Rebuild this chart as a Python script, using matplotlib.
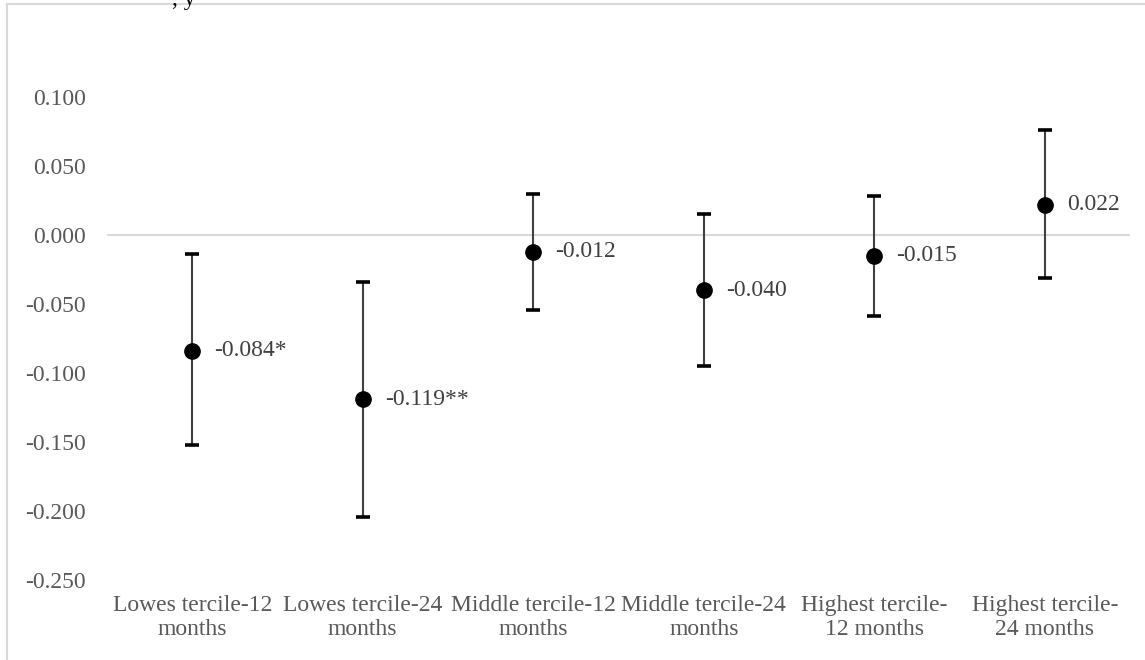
import numpy as np
import matplotlib
matplotlib.use("Agg")
import matplotlib.pyplot as plt
from matplotlib.patches import Rectangle

# ── data ─────────────────────────────────────────────
categories = ["Lowes tercile-12\nmonths", "Lowes tercile-24\nmonths",
              "Middle tercile-12\nmonths", "Middle tercile-24\nmonths",
              "Highest tercile-\n12 months", "Highest tercile-\n24 months"]
estimates = [-0.084, -0.119, -0.012, -0.040, -0.015, 0.022]
ci_upper  = [-0.014, -0.034, 0.030, 0.015, 0.028, 0.076]
ci_lower  = [-0.152, -0.204, -0.054, -0.095, -0.059, -0.031]
labels    = ["-0.084*", "-0.119**", "-0.012", "-0.040", "-0.015", "0.022"]
yticks    = [-0.25, -0.20, -0.15, -0.10, -0.05, 0.0, 0.05, 0.10]

plt.rcParams["font.family"] = ["Liberation Serif", "DejaVu Serif"]

W, H = 1145, 660
fig = plt.figure(figsize=(W / 100, H / 100), dpi=100)

# outer chart frame (only left/top visible, rest cropped)
fig.patches.append(Rectangle((7 / W, -0.05), 1.2, 1 - 4 / H + 0.05,
                             transform=fig.transFigure, fill=False,
                             edgecolor="#d9d9d9", lw=1.5))
# clipped title remnant
fig.text(0.15, 1.0, ", y", fontsize=17, color="#000000", ha="left", va="center")

ax = fig.add_axes([107 / W, 80 / H, (1130 - 107) / W, (580 - 69.4) / H])
x = np.arange(len(estimates))
est = np.array(estimates)
err = np.vstack([est - np.array(ci_lower), np.array(ci_upper) - est])

ax.axhline(0, color="#d9d9d9", lw=1.5, zorder=1)
ax.errorbar(x, est, yerr=err, fmt="none", ecolor="#404040", elinewidth=1.5,
            capsize=0, zorder=2)
# thick black caps
ax.plot(x, ci_upper, ls="none", marker="_", ms=10.5, mew=2.6, color="black", zorder=3)
ax.plot(x, ci_lower, ls="none", marker="_", ms=10.5, mew=2.6, color="black", zorder=3)
ax.plot(x, est, ls="none", marker="o", ms=11, color="black", zorder=4)

for xi, yi, lab in zip(x, estimates, labels):
    ax.annotate(lab, (xi, yi), xytext=(16, 0), textcoords="offset points",
                va="center", ha="left", fontsize=17, color="#404040")

ax.set_xlim(-0.5, len(estimates) - 0.5)
ax.set_ylim(-0.25, 0.12)
ax.set_yticks(yticks)
ax.set_yticklabels([f"{v:.3f}" for v in yticks])
ax.set_xticks(x)
ax.set_xticklabels(categories, linespacing=1.15)
ax.tick_params(axis="y", length=0, pad=15, labelsize=17, labelcolor="#595959")
ax.tick_params(axis="x", length=0, pad=11, labelsize=17, labelcolor="#595959")
for s in ax.spines.values():
    s.set_visible(False)

fig.savefig("out.png", dpi=100)
